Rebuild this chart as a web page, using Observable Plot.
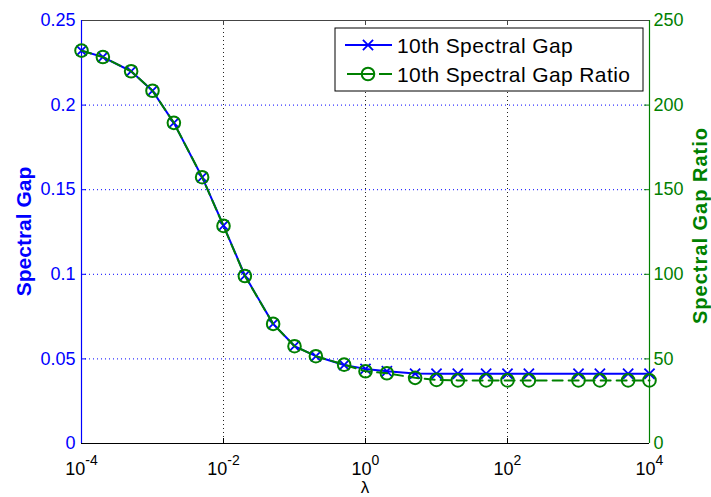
<!DOCTYPE html>
<html><head><meta charset="utf-8">
<script src="https://cdn.jsdelivr.net/npm/d3@7"></script>
<script src="https://cdn.jsdelivr.net/npm/@observablehq/plot@0.6"></script>
<style>
body{margin:0;background:#fff;}
#chart{position:relative;width:711px;height:497px;overflow:hidden;}
</style></head><body><div id="chart"></div>
<script>
// ---- data ----
const lambdas = [1e-4, 2e-4, 5e-4, 1e-3, 2e-3, 5e-3, 1e-2, 2e-2, 5e-2, 0.1, 0.2, 0.5, 1, 2, 5, 10, 20, 50, 100, 200, 1000, 2000, 5000, 10000];
const spectralGap = [0.2322, 0.2284, 0.2200, 0.2085, 0.1895, 0.1574, 0.1288, 0.0993, 0.0707, 0.0576, 0.0516, 0.0464, 0.0441, 0.0427, 0.0413, 0.0412, 0.0412, 0.0412, 0.0412, 0.0412, 0.0412, 0.0412, 0.0412, 0.0412];
const gapRatio = [232.2, 228.4, 220.0, 208.5, 189.5, 157.4, 128.6, 99.0, 70.7, 57.5, 51.6, 46.6, 42.7, 41.5, 38.8, 37.6, 37.3, 37.3, 37.3, 37.3, 37.3, 37.3, 37.3, 37.3];
const seriesNames = ["10th Spectral Gap", "10th Spectral Gap Ratio"];
const xTicks = [1e-4, 1e-2, 1, 1e2, 1e4];
const xTickExponents = ["-4", "-2", "0", "2", "4"];
const yTicks = [0, 0.05, 0.1, 0.15, 0.2, 0.25];
const yTickLabels = ["0", "0.05", "0.1", "0.15", "0.2", "0.25"];
const ratioTickLabels = ["0", "50", "100", "150", "200", "250"];
const xLabel = "λ";
const yLabel = "Spectral Gap";
const y2Label = "Spectral Gap Ratio";
const RATIO_SCALE = 1000; // right axis 0..250 shares the left axis 0..0.25

// ---- layout ----
const W = 711, H = 497, ML = 81, MR = 62, MT = 20, MB = 54;
const PW = W - ML - MR, PH = H - MT - MB;
const FONT = "'Liberation Sans', Arial, Helvetica, sans-serif";
const BLUE = "#0000ff", GREEN = "#008000";

const gapData = lambdas.map((l, i) => ({lambda: l, value: spectralGap[i]}));
const ratioData = lambdas.map((l, i) => ({lambda: l, value: gapRatio[i] / RATIO_SCALE}));

const plot = Plot.plot({
  width: W, height: H,
  marginLeft: ML, marginRight: MR, marginTop: MT, marginBottom: MB,
  style: {fontFamily: FONT, background: "white", overflow: "visible"},
  x: {type: "log", domain: [1e-4, 1e4]},
  y: {domain: [0, 0.25]},
  marks: [
    // dotted grid
    Plot.ruleY(yTicks.slice(1, -1), {stroke: BLUE, strokeDasharray: "1,3", strokeWidth: 1}),
    Plot.ruleX(xTicks.slice(1, -1), {stroke: "#222", strokeDasharray: "1,3", strokeWidth: 1}),
    // inward ticks
    Plot.ruleY(yTicks, {stroke: BLUE, insetRight: PW - 5}),
    Plot.ruleY(yTicks, {stroke: GREEN, insetLeft: PW - 5}),
    Plot.ruleX(xTicks, {stroke: "#000", insetTop: PH - 5}),
    Plot.ruleX(xTicks, {stroke: "#444", insetBottom: PH - 5}),
    // box
    Plot.ruleY([0.25], {stroke: "#444", strokeWidth: 1}),
    Plot.ruleY([0], {stroke: "#000", strokeWidth: 1}),
    Plot.ruleX([1e-4], {stroke: BLUE, strokeWidth: 1.2}),
    Plot.ruleX([1e4], {stroke: GREEN, strokeWidth: 1.2}),
    // axes
    Plot.axisX({ticks: xTicks, tickSize: 0, tickPadding: 19, fontSize: 18, label: null,
      tickFormat: d => "10^" + xTickExponents[xTicks.indexOf(d)], fill: "#000"}),
    Plot.axisY({ticks: yTicks, tickSize: 0, tickPadding: 6, fontSize: 18, label: null, color: BLUE,
      tickFormat: d => yTickLabels[yTicks.indexOf(d)]}),
    Plot.axisY({anchor: "right", ticks: yTicks, tickSize: 0, tickPadding: 4, fontSize: 18, label: null, color: GREEN,
      tickFormat: d => ratioTickLabels[yTicks.indexOf(d)]}),
    // series
    Plot.line(gapData, {x: "lambda", y: "value", stroke: BLUE, strokeWidth: 2}),
    Plot.dot(gapData, {x: "lambda", y: "value", symbol: "times", r: 4.7, stroke: BLUE, strokeWidth: 1.8}),
    Plot.line(ratioData, {x: "lambda", y: "value", stroke: GREEN, strokeWidth: 2, strokeDasharray: "10,6"}),
    Plot.dot(ratioData, {x: "lambda", y: "value", symbol: "circle", r: 6.3, stroke: GREEN, fill: "none", strokeWidth: 2})
  ]
});
document.getElementById("chart").appendChild(plot);

const svg = d3.select(plot);
// superscript exponents on x tick labels
svg.selectAll('g[aria-label="x-axis tick label"] text').each(function () {
  const t = d3.select(this);
  const parts = t.text().split("^");
  t.text(parts[0]);
  t.append("tspan").attr("dy", "-10").attr("font-size", 14).text(parts[1]);
});

// axis titles
svg.append("text").attr("x", ML + PW / 2).attr("y", H - 4).attr("text-anchor", "middle")
  .attr("font-family", FONT).attr("font-size", 17).attr("fill", "#000").text(xLabel);
svg.append("text").attr("transform", `translate(23,${MT + PH / 2}) rotate(-90)`)
  .attr("text-anchor", "middle").attr("dominant-baseline", "central")
  .attr("font-family", FONT).attr("font-size", 21).attr("font-weight", "bold").attr("fill", BLUE).text(yLabel);
svg.append("text").attr("transform", `translate(700,${MT + PH / 2 - 6}) rotate(-90)`)
  .attr("text-anchor", "middle").attr("dominant-baseline", "central")
  .attr("font-family", FONT).attr("font-size", 20).attr("letter-spacing", "1")
  .attr("font-weight", "bold").attr("fill", GREEN).text(y2Label);

// legend
const LW = 308, LH = 63, LX = ML + PW - 6 - LW, LY = MT + 8;
const lg = svg.append("g");
lg.append("rect").attr("x", LX).attr("y", LY).attr("width", LW).attr("height", LH)
  .attr("fill", "white").attr("stroke", "#000").attr("stroke-width", 1);
const rows = [LY + 17, LY + 46];
lg.append("line").attr("x1", LX + 10).attr("x2", LX + 57).attr("y1", rows[0]).attr("y2", rows[0])
  .attr("stroke", BLUE).attr("stroke-width", 2);
lg.append("path").attr("transform", `translate(${LX + 33},${rows[0]})`)
  .attr("d", d3.symbol(d3.symbolTimes, Math.PI * 4.7 * 4.7)()).attr("fill", "none")
  .attr("stroke", BLUE).attr("stroke-width", 1.8);
lg.append("line").attr("x1", LX + 12).attr("x2", LX + 57).attr("y1", rows[1]).attr("y2", rows[1])
  .attr("stroke", GREEN).attr("stroke-width", 2).attr("stroke-dasharray", "27,5,15");
lg.append("circle").attr("cx", LX + 33).attr("cy", rows[1]).attr("r", 6.3)
  .attr("fill", "none").attr("stroke", GREEN).attr("stroke-width", 2);
seriesNames.forEach((name, i) => {
  lg.append("text").attr("x", LX + 62).attr("y", rows[i]).attr("dominant-baseline", "central")
    .attr("text-anchor", "start").attr("letter-spacing", "0.4")
    .attr("font-family", FONT).attr("font-size", 21).attr("fill", "#000").text(name);
});
</script></body></html>
